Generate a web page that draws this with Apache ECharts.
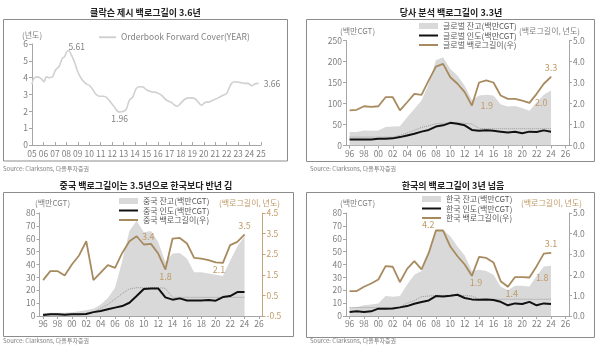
<!DOCTYPE html>
<html>
<head>
<meta charset="utf-8">
<style>html,body{margin:0;padding:0;background:#fff}#chart{width:600px;height:351px}</style>
<script src="https://cdn.jsdelivr.net/npm/echarts@6/dist/echarts.min.js"></script>
</head>
<body>
<div id="chart"></div>
<script>
// 1) Clarksons orderbook forward cover (years)
var fcYears = [2005.0, 2005.15, 2005.5, 2005.8, 2006.05, 2006.25, 2006.55, 2006.8, 2007.05, 2007.35,
  2007.65, 2007.85, 2008.0, 2008.2, 2008.4, 2008.7, 2009.0, 2009.3, 2009.7, 2010.05,
  2010.35, 2010.6, 2010.9, 2011.25, 2011.55, 2011.85, 2012.2, 2012.5, 2012.65, 2013.0,
  2013.25, 2013.5, 2013.8, 2014.1, 2014.4, 2014.7, 2015.0, 2015.43, 2015.87, 2016.3,
  2016.74, 2017.18, 2017.47, 2017.67, 2017.96, 2018.34, 2018.78, 2019.2, 2019.5, 2019.8,
  2020.1, 2020.47, 2020.8, 2021.26, 2021.7, 2022.0, 2022.2, 2022.43, 2022.7, 2023.15,
  2023.6, 2023.88, 2024.17, 2024.47, 2024.76];
var fcValues = [3.6, 3.95, 4.05, 3.95, 3.75, 4.05, 4.0, 4.05, 4.45, 4.65,
  5.15, 5.25, 5.5, 5.61, 5.4, 4.95, 4.35, 3.95, 3.65, 3.52,
  3.25, 3.0, 2.9, 2.9, 2.8, 2.55, 2.25, 1.98, 1.96, 2.0,
  2.15, 2.65, 2.85, 3.35, 3.46, 3.44, 3.28, 3.16, 3.12, 2.96,
  2.66, 2.52, 2.36, 2.3, 2.46, 2.72, 2.8, 2.76, 2.56, 2.36,
  2.52, 2.56, 2.66, 2.8, 2.96, 3.06, 3.36, 3.66, 3.76, 3.72,
  3.66, 3.66, 3.52, 3.62, 3.66];
var fcTicks = [2005, 2025];

// 2)-4) yearly, 1996-2024 (axis runs to 2026)
var yearLabels = ['96','97','98','99','00','01','02','03','04','05','06','07','08','09','10',
  '11','12','13','14','15','16','17','18','19','20','21','22','23','24','25','26'];

var glbOrder = [32,32,36,35,36,44,45,46,67,87,107,147,203,210,182,166,142,108,119,121,119,98,93,94,89,83,103,121,131];
var glbDeliv = [14,14,14,14.5,16,16,17,20,24,28,33,37,45,48,54,52,48,37,35,36.5,35,33,31,32.5,29,33,32,36,33];
var glbTrend = [20,20,20,20,20,20,20,24,30,36,43,47,52,53,54,54,53,51,41,40,40,40,40,40,40,40,40,40,40];
var glbBacklog = [1.67,1.7,1.87,1.84,1.87,2.3,2.3,1.67,2.06,2.46,2.41,3.1,3.76,3.89,3.25,2.94,2.54,1.9,3.0,3.1,3.0,2.38,2.22,2.22,2.14,2.03,2.46,2.94,3.27];

var cnOrder = [2,2.6,2.6,2.6,3,3.6,4.4,5.7,9,14,22,43,66,74,65,66,57.5,42,48.5,49,44.6,34,34,33,32,31,43,54,62];
var cnDeliv = [0.8,1.3,1.3,1,1.3,1.3,1.5,3,3.9,5.2,6.5,7.7,10.3,15.5,21,21.4,21.4,14.5,12.7,13.7,12.1,12.1,12.1,12.4,11.9,14.7,15.5,18.6,18.6];
var cnTrend = [1.5,1.5,1.5,1.5,1.5,1.8,2,3,6,9,13,17.5,21,22,22,22,22,21.5,14.5,14.5,14.5,14.5,14.5,14.5,14.5,14.5,14.5,14.5,14.5];
var cnBacklog = [1.24,1.68,1.68,1.47,2.0,2.44,3.13,1.24,1.6,1.97,1.84,2.56,3.13,3.37,2.97,3.0,2.53,1.76,3.26,3.29,3.02,2.32,2.29,2.21,2.1,2.08,2.94,3.1,3.45];

var krOrder = [6.5,7,8.3,9,9.8,15.5,15,15.5,24.5,32,35,49,66,67,62,54,47,35,36,35,32,23,20,23.5,23.5,23,31,38.5,39];
var krDeliv = [3.1,3.6,3.1,3.6,5.7,5.7,5.9,6.7,7.7,9.5,10.8,12.1,15.5,15.2,15.7,16.5,14,12.9,12.6,12.9,12.4,11,8.3,9.8,9.3,11,8.3,9.8,9.3];
var krTrend = [6.5,6.5,6.5,6.5,6.5,6.5,6.5,7,10,12,15,15.5,16,16,16,16,16,15.5,13,13,13,13,13,13,13,13,13,13,13];
var krBacklog = [1.21,1.21,1.42,1.58,1.77,2.42,2.39,1.65,2.29,2.66,2.26,3.06,4.15,4.15,3.37,2.9,2.5,1.95,2.87,2.82,2.6,1.69,1.42,1.89,1.89,1.87,2.42,3.03,3.06];

var FONT = '"Noto Sans CJK KR", "Noto Sans", sans-serif';
var TXT = '#7f7f7f';
var AXIS = '#a6a6a6';
var AREA = '#d9d9d9';
var BLACK = '#111111';
var BROWN = '#a88a5f';
var BROWN_TXT = '#bf9a66';
var DOT = '#9a9a9a';

// brown line labels, keyed by data index (a tiny symbol carries the label)
function labelled(values, marks, color) {
  return values.map(function (v, i) {
    if (!marks[i]) return v;
    return { value: v, symbol: 'circle', symbolSize: 1,
      label: Object.assign({ show: true, color: BROWN_TXT, fontSize: 9, fontFamily: FONT }, marks[i]) };
  });
}

function catAxis(grid) {
  return {
    type: 'category', gridIndex: grid, data: yearLabels, boundaryGap: true,
    axisLine: { lineStyle: { color: AXIS } },
    axisTick: { show: true, alignWithLabel: true, interval: 1, length: 3, lineStyle: { color: AXIS } },
    axisLabel: { interval: 1, color: TXT, fontSize: 8.5, fontFamily: FONT, margin: 4 }
  };
}

function valAxis(grid, min, max, step, side, color, digits) {
  return {
    type: 'value', gridIndex: grid, position: side, min: min, max: max, interval: step,
    splitLine: { show: false },
    axisLine: { show: true, lineStyle: { color: color || AXIS } },
    axisTick: { show: true, length: 3, lineStyle: { color: color || AXIS } },
    axisLabel: {
      color: color ? BROWN_TXT : TXT, fontSize: 8.5, fontFamily: FONT, margin: 4,
      formatter: function (v) { return digits ? v.toFixed(digits) : String(v); }
    }
  };
}

function panelSeries(names, xi, yl, yr, order, deliv, trend, backlog, marks) {
  return [
    { name: names[0], type: 'line', xAxisIndex: xi, yAxisIndex: yl, data: order, symbol: 'none',
      lineStyle: { width: 0 }, itemStyle: { color: AREA }, areaStyle: { color: AREA, opacity: 1 }, silent: true },
    { name: names[0] + '_avg', type: 'line', xAxisIndex: xi, yAxisIndex: yl, data: trend, symbol: 'none',
      lineStyle: { width: 1, type: 'dotted', color: DOT }, itemStyle: { color: DOT } },
    { name: names[1], type: 'line', xAxisIndex: xi, yAxisIndex: yl, data: deliv, symbol: 'none',
      lineStyle: { width: 2, color: BLACK }, itemStyle: { color: BLACK } },
    { name: names[2], type: 'line', xAxisIndex: xi, yAxisIndex: yr, data: labelled(backlog, marks),
      symbol: 'none', showAllSymbol: true,
      lineStyle: { width: 1.8, color: BROWN }, itemStyle: { color: BROWN } }
  ];
}

function legendFor(names, left, top) {
  return {
    left: left, top: top, orient: 'vertical', padding: 0, itemGap: 1.5,
    itemWidth: 19, itemHeight: 6, selectedMode: false,
    itemStyle: { opacity: 0 },
    textStyle: { fontSize: 8, color: '#595959', fontFamily: FONT, lineHeight: 8 },
    data: [{ name: names[0], icon: 'rect', itemStyle: { opacity: 1, color: AREA } }, { name: names[1] }, { name: names[2] }]
  };
}

var gNames = ['글로벌 잔고(백만CGT)', '글로벌 인도(백만CGT)', '글로벌 백로그길이(우)'];
var cNames = ['중국 잔고(백만CGT)', '중국 인도(백만CGT)', '중국 백로그길이(우)'];
var kNames = ['한국 잔고(백만CGT)', '한국 인도(백만CGT)', '한국 백로그길이(우)'];

// panel 1 points, with labels on peak, trough and last value
var peakIdx = fcValues.indexOf(Math.max.apply(null, fcValues));
var lowIdx = fcValues.indexOf(Math.min.apply(null, fcValues));
var fcData = fcYears.map(function (y, i) {
  var item = { value: [y, fcValues[i]] };
  var lab = null;
  if (i === peakIdx) lab = { position: 'top', distance: 1, offset: [8, 2] };
  if (i === lowIdx) lab = { position: 'bottom', distance: 2 };
  if (i === fcYears.length - 1) lab = { position: 'right', distance: 5 };
  if (lab) {
    item.symbol = 'circle';
    item.symbolSize = 1;
    item.label = Object.assign({ show: true, color: TXT, fontSize: 8.5, fontFamily: FONT,
      formatter: function (p) { return p.value[1].toFixed(2); } }, lab);
  }
  return item;
});

function txt(text, x, y, opts) {
  return { type: 'text', x: x, y: y, silent: true,
    style: Object.assign({ text: text, fontSize: 8, fontFamily: FONT, fill: TXT, verticalAlign: 'middle', align: 'left' }, opts || {}) };
}
function box(x, y, w, h) {
  return { type: 'rect', silent: true, shape: { x: x, y: y, width: w, height: h },
    style: { fill: 'none', stroke: '#8c8c8c', lineWidth: 1 } };
}
var titleStyle = { fontSize: 9, fontWeight: 'bold', fill: '#222', align: 'center' };
var srcStyle = { fontSize: 6, fill: '#808080' };
var SRC = 'Source: Clarksons, 다올투자증권';

var option = {
  animation: false,
  grid: [
    { left: 32, top: 44, width: 229, height: 101 },
    { left: 346, top: 40.5, width: 223, height: 105 },
    { left: 39.5, top: 213, width: 223, height: 103 },
    { left: 346, top: 213, width: 223, height: 103 }
  ],
  xAxis: [
    { type: 'value', gridIndex: 0, min: fcTicks[0], max: fcTicks[1], interval: 1,
      splitLine: { show: false },
      axisLine: { lineStyle: { color: AXIS } },
      axisTick: { show: true, length: 3, inside: true, lineStyle: { color: AXIS } },
      axisLabel: { color: TXT, fontSize: 8.5, fontFamily: FONT, margin: 5,
        formatter: function (v) { return ('0' + (v % 100)).slice(-2); } } },
    catAxis(1), catAxis(2), catAxis(3)
  ],
  yAxis: [
    valAxis(0, 0, 6, 1, 'left'),
    valAxis(1, 0, 250, 50, 'left'),
    valAxis(1, 0, 5, 1, 'right', null, 1),
    valAxis(2, 0, 80, 10, 'left'),
    valAxis(2, -0.5, 4.5, 1, 'right', '#c4a57a', 1),
    valAxis(3, 0, 80, 10, 'left'),
    valAxis(3, 0, 5, 1, 'right', null, 1)
  ],
  legend: [
    { left: 98, top: 33, padding: 0, itemWidth: 17, itemHeight: 6, selectedMode: false,
      itemStyle: { opacity: 0 }, data: ['Orderbook Forward Cover(YEAR)'],
      textStyle: { fontSize: 8.5, color: TXT, fontFamily: FONT } },
    legendFor(gNames, 418, 22),
    legendFor(cNames, 118, 197),
    legendFor(kNames, 421, 195)
  ],
  series: [
    { name: 'Orderbook Forward Cover(YEAR)', type: 'line', xAxisIndex: 0, yAxisIndex: 0, data: fcData,
      symbol: 'none', showAllSymbol: true, smooth: 0.3,
      lineStyle: { width: 1.6, color: '#d0d0d0' }, itemStyle: { color: '#d0d0d0' } }
  ].concat(
    panelSeries(gNames, 1, 1, 2, glbOrder, glbDeliv, glbTrend, glbBacklog, {
      17: { position: 'right', distance: 8, formatter: '1.9' },
      25: { position: 'right', distance: 5, formatter: '2.0' },
      28: { position: 'top', distance: 4, formatter: '3.3' }
    }),
    panelSeries(cNames, 2, 3, 4, cnOrder, cnDeliv, cnTrend, cnBacklog, {
      13: { position: 'right', distance: 5, formatter: '3.4' },
      17: { position: 'bottom', distance: 2, formatter: '1.8' },
      25: { position: 'bottom', distance: 2, offset: [-4, 0], formatter: '2.1' },
      28: { position: 'top', distance: 4, formatter: '3.5' }
    }),
    panelSeries(kNames, 3, 5, 6, krOrder, krDeliv, krTrend, krBacklog, {
      12: { position: 'left', distance: 3, offset: [2, -6], formatter: '4.2' },
      17: { position: 'bottom', distance: 2, offset: [4, 0], formatter: '1.9' },
      22: { position: 'bottom', distance: 2, offset: [4, 0], formatter: '1.4' },
      25: { position: 'right', distance: 6, formatter: '1.8' },
      28: { position: 'top', distance: 4, formatter: '3.1' }
    })
  ),
  graphic: [
    box(3.5, 19.5, 284, 141.5),
    box(306.5, 19.5, 288, 142),
    box(3.5, 192.5, 290, 144),
    box(306.5, 192.5, 288, 145),
    txt('클락슨 제시 백로그길이 3.6년', 145.5, 13, titleStyle),
    txt('당사 분석 백로그길이 3.3년', 451, 13, titleStyle),
    txt('중국 백로그길이는 3.5년으로 한국보다 반년 김', 146, 186, titleStyle),
    txt('한국의 백로그길이 3년 넘음', 453, 185.5, titleStyle),
    txt(SRC, 3, 168.5, srcStyle),
    txt(SRC, 310, 168.5, srcStyle),
    txt(SRC, 3, 341, srcStyle),
    txt(SRC, 310, 341, srcStyle),
    txt('(년도)', 22, 35),
    txt('(백만CGT)', 340, 31),
    txt('(백로그길이, 년도)', 580, 31, { align: 'right' }),
    txt('(백만CGT)', 35, 203),
    txt('(백로그길이, 년도)', 280, 203, { align: 'right', fill: BROWN_TXT }),
    txt('(백만CGT)', 340, 203),
    txt('(백로그길이, 년도)', 582, 203, { align: 'right', fill: BROWN_TXT })
  ]
};

var myChart = echarts.init(document.getElementById('chart'));
myChart.setOption(option);
</script>
</body>
</html>
